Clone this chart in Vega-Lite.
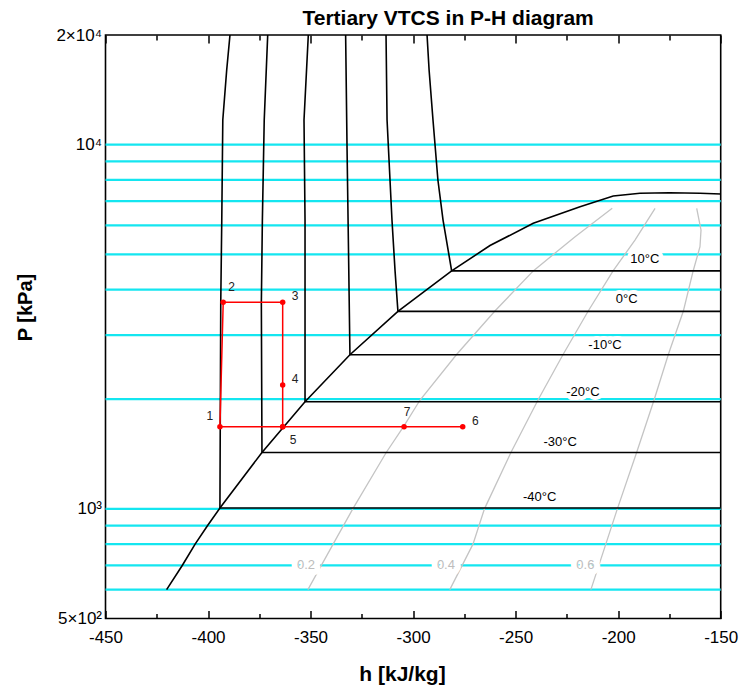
{
  "$schema": "https://vega.github.io/schema/vega-lite/v6.json",
  "autosize": "none",
  "padding": {"left": 105.5, "top": 35, "right": 21.3, "bottom": 66.5},
  "width": 615.2,
  "height": 583.5,
  "background": "white",
  "config": {
    "font": "Liberation Sans",
    "view": {"stroke": "#000", "strokeWidth": 1.6}
  },
  "title": {
    "text": "Tertiary VTCS in P-H diagram",
    "font": "Liberation Sans",
    "fontSize": 21,
    "fontWeight": "bold",
    "color": "#000",
    "anchor": "middle",
    "dx": 35,
    "offset": -3
  },
  "datasets": {
    "isobars": [
      {"P": 600}, {"P": 700}, {"P": 800}, {"P": 900}, {"P": 1000},
      {"P": 2000}, {"P": 3000}, {"P": 4000}, {"P": 5000}, {"P": 6000},
      {"P": 7000}, {"P": 8000}, {"P": 9000}, {"P": 10000}
    ],
    "dome": [
      {"s": 1, "h": -420.2, "P": 600},
      {"s": 2, "h": -412.5, "P": 700},
      {"s": 3, "h": -406.3, "P": 800},
      {"s": 4, "h": -400.2, "P": 900},
      {"s": 5, "h": -394.2, "P": 1005},
      {"s": 6, "h": -373.7, "P": 1428},
      {"s": 7, "h": -352.7, "P": 1969},
      {"s": 8, "h": -330.8, "P": 2649},
      {"s": 9, "h": -307.4, "P": 3485},
      {"s": 10, "h": -281.2, "P": 4502},
      {"s": 11, "h": -262.5, "P": 5284},
      {"s": 12, "h": -241.4, "P": 6081},
      {"s": 13, "h": -218.6, "P": 6754},
      {"s": 14, "h": -202.4, "P": 7227},
      {"s": 15, "h": -189.4, "P": 7351},
      {"s": 16, "h": -175.0, "P": 7377},
      {"s": 17, "h": -160.1, "P": 7355},
      {"s": 18, "h": -150.0, "P": 7320}
    ],
    "isotherms": [
      {"T": -40, "s": 1, "h": -389.3, "P": 20000},
      {"T": -40, "s": 2, "h": -390.9, "P": 16030},
      {"T": -40, "s": 3, "h": -392.8, "P": 11690},
      {"T": -40, "s": 4, "h": -393.3, "P": 6209},
      {"T": -40, "s": 5, "h": -393.8, "P": 3675},
      {"T": -40, "s": 6, "h": -394.2, "P": 1005},
      {"T": -40, "s": 7, "h": -150.0, "P": 1005},
      {"T": -30, "s": 1, "h": -370.9, "P": 20000},
      {"T": -30, "s": 2, "h": -372.6, "P": 11690},
      {"T": -30, "s": 3, "h": -373.5, "P": 6209},
      {"T": -30, "s": 4, "h": -374.0, "P": 3675},
      {"T": -30, "s": 5, "h": -373.7, "P": 1428},
      {"T": -30, "s": 6, "h": -150.0, "P": 1428},
      {"T": -20, "s": 1, "h": -351.1, "P": 20000},
      {"T": -20, "s": 2, "h": -353.2, "P": 11690},
      {"T": -20, "s": 3, "h": -352.7, "P": 6209},
      {"T": -20, "s": 4, "h": -352.7, "P": 1969},
      {"T": -20, "s": 5, "h": -150.0, "P": 1969},
      {"T": -10, "s": 1, "h": -332.9, "P": 20000},
      {"T": -10, "s": 2, "h": -332.2, "P": 9667},
      {"T": -10, "s": 3, "h": -331.5, "P": 5135},
      {"T": -10, "s": 4, "h": -330.8, "P": 2649},
      {"T": -10, "s": 5, "h": -150.0, "P": 2649},
      {"T": 0, "s": 1, "h": -313.2, "P": 20000},
      {"T": 0, "s": 2, "h": -312.7, "P": 11690},
      {"T": 0, "s": 3, "h": -310.3, "P": 6209},
      {"T": 0, "s": 4, "h": -308.8, "P": 4502},
      {"T": 0, "s": 5, "h": -307.4, "P": 3485},
      {"T": 0, "s": 6, "h": -150.0, "P": 3485},
      {"T": 10, "s": 1, "h": -293.2, "P": 20000},
      {"T": 10, "s": 2, "h": -292.2, "P": 16030},
      {"T": 10, "s": 3, "h": -290.3, "P": 11690},
      {"T": 10, "s": 4, "h": -287.9, "P": 7996},
      {"T": 10, "s": 5, "h": -285.4, "P": 6209},
      {"T": 10, "s": 6, "h": -281.2, "P": 4502},
      {"T": 10, "s": 7, "h": -150.0, "P": 4502}
    ],
    "quality": [
      {"x": "0.2", "s": 1, "h": -351.3, "P": 600},
      {"x": "0.2", "s": 2, "h": -339.0, "P": 800},
      {"x": "0.2", "s": 3, "h": -329.4, "P": 1000},
      {"x": "0.2", "s": 4, "h": -313.1, "P": 1428},
      {"x": "0.2", "s": 5, "h": -304.5, "P": 1688},
      {"x": "0.2", "s": 6, "h": -296.6, "P": 1990},
      {"x": "0.2", "s": 7, "h": -278.7, "P": 2657},
      {"x": "0.2", "s": 8, "h": -260.1, "P": 3494},
      {"x": "0.2", "s": 9, "h": -241.4, "P": 4502},
      {"x": "0.2", "s": 10, "h": -221.0, "P": 5588},
      {"x": "0.2", "s": 11, "h": -202.9, "P": 6687},
      {"x": "0.4", "s": 1, "h": -282.1, "P": 600},
      {"x": "0.4", "s": 2, "h": -270.8, "P": 800},
      {"x": "0.4", "s": 3, "h": -265.2, "P": 1000},
      {"x": "0.4", "s": 4, "h": -252.3, "P": 1428},
      {"x": "0.4", "s": 5, "h": -239.1, "P": 1990},
      {"x": "0.4", "s": 6, "h": -226.8, "P": 2657},
      {"x": "0.4", "s": 7, "h": -214.6, "P": 3494},
      {"x": "0.4", "s": 8, "h": -202.4, "P": 4507},
      {"x": "0.4", "s": 9, "h": -191.8, "P": 5471},
      {"x": "0.4", "s": 10, "h": -182.0, "P": 6687},
      {"x": "0.6", "s": 1, "h": -213.3, "P": 600},
      {"x": "0.6", "s": 2, "h": -200.4, "P": 1000},
      {"x": "0.6", "s": 3, "h": -191.0, "P": 1428},
      {"x": "0.6", "s": 4, "h": -182.5, "P": 1990},
      {"x": "0.6", "s": 5, "h": -175.5, "P": 2657},
      {"x": "0.6", "s": 6, "h": -168.2, "P": 3494},
      {"x": "0.6", "s": 7, "h": -163.4, "P": 4507},
      {"x": "0.6", "s": 8, "h": -160.1, "P": 5246},
      {"x": "0.6", "s": 9, "h": -159.6, "P": 5830},
      {"x": "0.6", "s": 10, "h": -161.7, "P": 6687}
    ],
    "tlabels": [
      {"t": "10°C", "h": -187.0, "P": 4847},
      {"t": "0°C", "h": -195.8, "P": 3763},
      {"t": "-10°C", "h": -206.4, "P": 2812},
      {"t": "-20°C", "h": -217.2, "P": 2097},
      {"t": "-30°C", "h": -228.3, "P": 1529},
      {"t": "-40°C", "h": -238.3, "P": 1080}
    ],
    "qlabels": [
      {"q": "0.2", "h": -352.2, "P": 700},
      {"q": "0.4", "h": -284.0, "P": 700},
      {"q": "0.6", "h": -216.0, "P": 700}
    ],
    "cycle": [
      {"n": "6", "s": 1, "h": -275.8, "P": 1681},
      {"n": "7", "s": 2, "h": -304.4, "P": 1681},
      {"n": "5", "s": 3, "h": -363.6, "P": 1681},
      {"n": "1", "s": 4, "h": -394.2, "P": 1681},
      {"n": "2", "s": 5, "h": -392.6, "P": 3691},
      {"n": "3", "s": 6, "h": -363.6, "P": 3691},
      {"n": "4", "s": 7, "h": -363.6, "P": 2188},
      {"n": "5", "s": 8, "h": -363.6, "P": 1681}
    ]
  },
  "resolve": {"axis": {"x": "independent", "y": "independent"}},
  "layer": [
    {
      "data": {"name": "isobars"},
      "mark": {"type": "rule", "color": "#14e6f0", "strokeWidth": 2.2},
      "encoding": {
        "y": {
          "field": "P", "type": "quantitative",
          "scale": {"type": "log", "domain": [500, 20000], "nice": false},
          "axis": {
            "orient": "left",
            "values": [500, 1000, 10000, 20000],
            "labelExpr": "datum.value == 20000 ? '2×10⁴' : datum.value == 10000 ? '10⁴' : datum.value == 1000 ? '10³' : '5×10²'",
            "ticks": false, "domain": false, "grid": false,
            "labelPadding": 4, "labelFontSize": 17, "labelFont": "Liberation Sans",
            "labelColor": "#000", "labelFlush": false, "labelOverlap": false, "labelBound": false,
            "title": "P [kPa]", "titleFont": "Liberation Sans", "titleFontSize": 20,
            "titleFontWeight": "bold", "titleColor": "#000",
            "titleX": -74, "titleY": 272, "titleAngle": 270,
            "titleBaseline": "alphabetic", "titleAlign": "center"
          }
        }
      }
    },
    {
      "data": {"name": "quality"},
      "mark": {"type": "line", "color": "#c4c4c4", "strokeWidth": 1.3},
      "encoding": {
        "x": {
          "field": "h", "type": "quantitative",
          "scale": {"domain": [-450, -150], "nice": false, "zero": false},
          "axis": {
            "orient": "bottom",
            "values": [-450, -400, -350, -300, -250, -200, -150],
            "labelExpr": "'' + datum.value",
            "ticks": false, "domain": false, "grid": false,
            "labelPadding": 11, "labelFontSize": 17, "labelFont": "Liberation Sans",
            "labelColor": "#000", "labelFlush": false, "labelOverlap": false, "labelBound": false,
            "title": "h [kJ/kg]", "titleFont": "Liberation Sans", "titleFontSize": 21,
            "titleFontWeight": "bold", "titleColor": "#000",
            "titleX": 296.5, "titleY": 61.5, "titleBaseline": "alphabetic", "titleAlign": "center"
          }
        },
        "y": {"field": "P", "type": "quantitative", "scale": {"type": "log", "domain": [500, 20000], "nice": false}, "axis": null},
        "detail": {"field": "x"},
        "order": {"field": "s"}
      }
    },
    {
      "data": {"name": "dome"},
      "mark": {"type": "line", "color": "#000", "strokeWidth": 1.6},
      "encoding": {
        "x": {
          "field": "h", "type": "quantitative",
          "scale": {"domain": [-450, -150], "nice": false, "zero": false},
          "axis": {
            "orient": "bottom",
            "values": [-450, -400, -350, -300, -250, -200, -150],
            "labels": false, "domain": false, "grid": false, "ticks": true,
            "tickSize": -8, "tickColor": "#000", "tickWidth": 1.5, "title": null
          }
        },
        "y": {"field": "P", "type": "quantitative", "scale": {"type": "log", "domain": [500, 20000], "nice": false}, "axis": null},
        "order": {"field": "s"}
      }
    },
    {
      "data": {"name": "isotherms"},
      "mark": {"type": "line", "color": "#000", "strokeWidth": 1.6},
      "encoding": {
        "x": {
          "field": "h", "type": "quantitative",
          "scale": {"domain": [-450, -150], "nice": false, "zero": false},
          "axis": {
            "orient": "bottom",
            "values": [-425, -375, -325, -275, -225, -175],
            "labels": false, "domain": false, "grid": false, "ticks": true,
            "tickSize": -5, "tickColor": "#000", "tickWidth": 1.5, "title": null
          }
        },
        "y": {"field": "P", "type": "quantitative", "scale": {"type": "log", "domain": [500, 20000], "nice": false}, "axis": null},
        "detail": {"field": "T"},
        "order": {"field": "s"}
      }
    },
    {
      "data": {"name": "tlabels"},
      "mark": {"type": "text", "fill": "white", "stroke": "white", "strokeWidth": 8, "strokeJoin": "round", "fontSize": 13, "font": "Liberation Sans"},
      "encoding": {
        "x": {"field": "h", "type": "quantitative", "axis": null},
        "y": {"field": "P", "type": "quantitative", "axis": null},
        "text": {"field": "t"}
      }
    },
    {
      "data": {"name": "tlabels"},
      "mark": {"type": "text", "color": "#000", "fontSize": 13, "font": "Liberation Sans"},
      "encoding": {
        "x": {"field": "h", "type": "quantitative", "axis": null},
        "y": {"field": "P", "type": "quantitative", "axis": null},
        "text": {"field": "t"}
      }
    },
    {
      "data": {"name": "qlabels"},
      "mark": {"type": "text", "fill": "white", "stroke": "white", "strokeWidth": 12, "strokeJoin": "round", "fontSize": 13, "font": "Liberation Sans"},
      "encoding": {
        "x": {"field": "h", "type": "quantitative", "axis": null},
        "y": {"field": "P", "type": "quantitative", "axis": null},
        "text": {"field": "q"}
      }
    },
    {
      "data": {"name": "qlabels"},
      "mark": {"type": "text", "color": "#bdbdbd", "fontSize": 13, "font": "Liberation Sans"},
      "encoding": {
        "x": {"field": "h", "type": "quantitative", "axis": null},
        "y": {"field": "P", "type": "quantitative", "axis": null},
        "text": {"field": "q"}
      }
    },
    {
      "data": {"name": "cycle"},
      "mark": {"type": "line", "color": "#ff0000", "strokeWidth": 1.5},
      "encoding": {
        "x": {
          "field": "h", "type": "quantitative",
          "scale": {"domain": [-450, -150], "nice": false, "zero": false},
          "axis": {
            "orient": "top",
            "values": [-450, -400, -350, -300, -250, -200, -150],
            "labels": false, "domain": false, "grid": false, "ticks": true,
            "tickSize": -8, "tickColor": "#000", "tickWidth": 1.5, "title": null
          }
        },
        "y": {"field": "P", "type": "quantitative", "scale": {"type": "log", "domain": [500, 20000], "nice": false}, "axis": null},
        "order": {"field": "s"}
      }
    },
    {
      "data": {"name": "cycle"},
      "mark": {"type": "point", "filled": true, "color": "#ff0000", "size": 30, "opacity": 1},
      "encoding": {
        "x": {
          "field": "h", "type": "quantitative",
          "scale": {"domain": [-450, -150], "nice": false, "zero": false},
          "axis": {
            "orient": "top",
            "values": [-425, -375, -325, -275, -225, -175],
            "labels": false, "domain": false, "grid": false, "ticks": true,
            "tickSize": -5, "tickColor": "#000", "tickWidth": 1.5, "title": null
          }
        },
        "y": {"field": "P", "type": "quantitative", "scale": {"type": "log", "domain": [500, 20000], "nice": false}, "axis": null}
      }
    },
    {
      "data": {"name": "cycle"},
      "transform": [{"filter": "datum.s == 4"}],
      "mark": {"type": "text", "color": "#222", "fontSize": 12, "font": "Liberation Sans", "dx": -10, "dy": -11},
      "encoding": {
        "x": {"field": "h", "type": "quantitative", "axis": null},
        "y": {"field": "P", "type": "quantitative", "axis": null},
        "text": {"field": "n"}
      }
    },
    {
      "data": {"name": "cycle"},
      "transform": [{"filter": "datum.s == 5"}],
      "mark": {"type": "text", "color": "#222", "fontSize": 12, "font": "Liberation Sans", "dx": 8.5, "dy": -15},
      "encoding": {
        "x": {"field": "h", "type": "quantitative", "axis": null},
        "y": {"field": "P", "type": "quantitative", "axis": null},
        "text": {"field": "n"}
      }
    },
    {
      "data": {"name": "cycle"},
      "transform": [{"filter": "datum.s == 2"}],
      "mark": {"type": "text", "color": "#222", "fontSize": 12, "font": "Liberation Sans", "dx": 3, "dy": -15},
      "encoding": {
        "x": {"field": "h", "type": "quantitative", "axis": null},
        "y": {"field": "P", "type": "quantitative", "axis": null},
        "text": {"field": "n"}
      }
    },
    {
      "data": {"name": "cycle"},
      "transform": [{"filter": "datum.s == 3"}],
      "mark": {"type": "text", "color": "#222", "fontSize": 12, "font": "Liberation Sans", "dx": 10.5, "dy": 13.5},
      "encoding": {
        "x": {"field": "h", "type": "quantitative", "axis": null},
        "y": {"field": "P", "type": "quantitative", "axis": null},
        "text": {"field": "n"}
      }
    },
    {
      "data": {"name": "cycle"},
      "transform": [{"filter": "datum.s == 1 || datum.s == 6 || datum.s == 7"}],
      "mark": {"type": "text", "color": "#222", "fontSize": 12, "font": "Liberation Sans", "dx": 12.5, "dy": -6},
      "encoding": {
        "x": {"field": "h", "type": "quantitative", "axis": null},
        "y": {"field": "P", "type": "quantitative", "axis": null},
        "text": {"field": "n"}
      }
    }
  ]
}
